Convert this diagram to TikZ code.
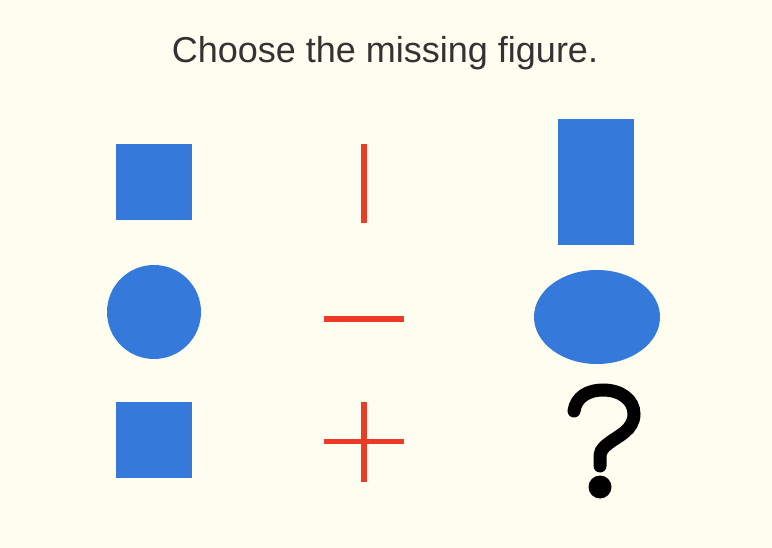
\documentclass[tikz,border=0pt]{standalone}
\usepackage{fontspec}
\setmainfont{Liberation Sans}
\definecolor{bgcream}{RGB}{255,252,240}
\definecolor{shapeblue}{RGB}{53,122,219}
\definecolor{linered}{RGB}{235,58,38}
\definecolor{titlegray}{RGB}{51,51,51}
\tikzset{
  blueshape/.style={fill=shapeblue, draw=none},
  redbar/.style={draw=linered, line width=5.5pt},
  qmark/.style={draw=black, line width=13pt, line cap=round}
}
\begin{document}
\begin{tikzpicture}[x=1pt,y=-1pt]
\fill[bgcream] (0,0) rectangle (772,548);
\useasboundingbox (0,0) rectangle (772,548);
\node[anchor=base, text=titlegray, font=\fontsize{36}{40}\selectfont, inner sep=0pt] (title) at (385,62.5) {Choose the missing figure.};
% row 1
\fill[blueshape] (116,144) rectangle (192,220);
\draw[redbar] (364,144) -- (364,223);
\fill[blueshape] (558,119) rectangle (634,245);
% row 2
\fill[blueshape] (154,312) circle[radius=47];
\draw[redbar] (324,319) -- (404,319);
\fill[blueshape] (597,317) ellipse[x radius=63, y radius=47];
% row 3
\fill[blueshape] (116,402) rectangle (192,478);
\draw[redbar] (324,441.5) -- (404,441.5);
\draw[redbar] (364,402) -- (364,481.5);
% question mark
\draw[qmark] (574,411) .. controls (576,397) and (588,390) .. (603,390)
  .. controls (621,390) and (634,400) .. (634,414)
  .. controls (634,430) and (618,436) .. (609,443)
  .. controls (601,449) and (600,452) .. (600,458) -- (600,466);
\fill[black] (600,487) circle[radius=11.5];
\end{tikzpicture}
\end{document}
